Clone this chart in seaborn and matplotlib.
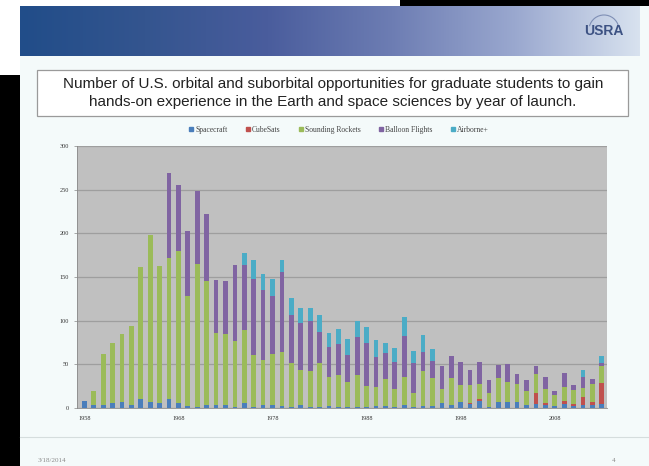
import numpy as np
import pandas as pd
import seaborn as sns
import matplotlib.pyplot as plt
from matplotlib.colors import LinearSegmentedColormap
from matplotlib.patches import Rectangle, Arc
from matplotlib.lines import Line2D

W, H = 649, 466

years = list(range(1958, 2014))
spacecraft = [8, 4, 3, 6, 7, 3, 10, 7, 6, 10, 6, 2, 1, 4, 3, 4, 1, 6, 1, 3,
              3, 2, 1, 3, 1, 1, 2, 1, 1, 1, 1, 2, 2, 1, 3, 1, 2, 2, 6, 3,
              7, 5, 8, 1, 7, 7, 7, 3, 5, 3, 2, 5, 2, 3, 3, 5]
cubesats = [0] * 39 + [1, 0, 1, 2, 0, 0, 0, 0, 0, 12, 3, 0, 3, 3, 10, 4, 24]
sounding = [0, 15, 59, 69, 78, 91, 151, 191, 157, 162, 174, 126, 164, 141, 83, 81, 76, 83, 60, 52,
            59, 62, 50, 41, 41, 51, 34, 37, 29, 37, 24, 22, 31, 21, 33, 16, 40, 32, 16, 30,
            19, 20, 18, 16, 27, 23, 20, 16, 22, 16, 13, 16, 16, 10, 20, 19]
balloon = [0, 0, 0, 0, 0, 0, 0, 0, 0, 97, 75, 75, 83, 77, 60, 60, 87, 75, 87, 80,
           66, 92, 56, 53, 58, 35, 34, 35, 31, 43, 50, 34, 30, 31, 46, 35, 22, 20, 26, 25,
           27, 17, 25, 15, 15, 20, 12, 13, 9, 13, 4, 16, 5, 13, 6, 4]
airborne = [0] * 17 + [13, 21, 18, 20, 13, 19, 18, 15, 20, 16, 17, 18, 19, 18, 20, 11, 16, 22, 13,
                       20, 14] + [0] * 15 + [8, 0, 7]
series = ["Spacecraft", "CubeSats", "Sounding Rockets", "Balloon Flights", "Airborne+"]
colors = ["#4a7ebb", "#c0504d", "#9bbb59", "#8064a2", "#4bacc6"]

df = pd.DataFrame({"year": [str(y) for y in years], "Spacecraft": spacecraft,
                   "CubeSats": cubesats, "Sounding Rockets": sounding,
                   "Balloon Flights": balloon, "Airborne+": airborne})
cum = df[series].cumsum(axis=1)
cum["year"] = df["year"]


def px_axes(x, y, w, h, **kw):
    return fig.add_axes([x / W, 1 - (y + h) / H, w / W, h / H], **kw)


def px_rect(x, y, w, h, **kw):
    fig.patches.append(Rectangle((x / W, 1 - (y + h) / H), w / W, h / H,
                                 transform=fig.transFigure, **kw))


fig = plt.figure(figsize=(W / 100, H / 100), dpi=100, facecolor="black")

# slide background and surrounding bits
px_rect(0, 0, 400, 6, facecolor="white", edgecolor="none", zorder=-2)
px_rect(0, 0, 20, 75, facecolor="white", edgecolor="none", zorder=-2)
px_rect(20, 6, 629, 460, facecolor="#f4fafa", edgecolor="none", zorder=-2)

# header band
hdr = px_axes(20, 6, 620, 50)
cmap = LinearSegmentedColormap.from_list(
    "hdr", ["#214d89", "#34558f", "#4a5d9d", "#6d7db3", "#9aa8cf", "#d8e2ef"])
hdr.imshow(np.linspace(0, 1, 256)[None, :], aspect="auto", cmap=cmap)
hdr.axis("off")
fig.text(604 / W, 1 - 31 / H, "USRA", color="#3d5283", fontsize=10, fontweight="bold",
         ha="center", va="center", family="Liberation Sans", zorder=5)
fig.patches.append(Arc((604 / W, 1 - 30 / H), 30 / W, 30 / H, theta1=20, theta2=160,
                       transform=fig.transFigure, color="#7f8fb5", lw=0.8, zorder=5))

# title box
px_rect(37, 70, 591, 46, facecolor="white", edgecolor="#9a9a9a", lw=0.9, zorder=1)
fig.text(333 / W, 1 - 84 / H,
         "Number of U.S. orbital and suborbital opportunities for graduate students to gain",
         ha="center", va="center", fontsize=11, family="Liberation Sans", color="#222222")
fig.text(333 / W, 1 - 102 / H,
         "hands-on experience in the Earth and space sciences by year of launch.",
         ha="center", va="center", fontsize=11, family="Liberation Sans", color="#222222")

# chart
ax = px_axes(77, 146, 530, 262)
ax.set_facecolor("#c0c0c0")
for s in reversed(series):
    sns.barplot(data=cum, x="year", y=s, color=colors[series.index(s)], width=0.5,
                saturation=1, errorbar=None, ax=ax, zorder=3)
ax.set_ylim(0, 300)
ax.set_xlim(-0.78, 55.55)
ax.set_yticks(range(0, 301, 50))
ax.grid(axis="y", color="#9e9e9e", lw=0.9, zorder=0)
ax.set_axisbelow(True)
ax.set_xticks(range(0, 56, 10))
ax.set_xticklabels([str(years[i]) for i in range(0, 56, 10)])
ax.tick_params(axis="y", labelsize=4.5, length=2, width=0.5, color="#888888", labelcolor="#333333", pad=4)
ax.tick_params(axis="x", labelsize=4.5, length=0, labelcolor="#333333", pad=6)
for lab in ax.get_xticklabels() + ax.get_yticklabels():
    lab.set_family("Liberation Serif")
ax.set_xlabel("")
ax.set_ylabel("")
for side in ["top", "right"]:
    ax.spines[side].set_visible(False)
ax.spines["left"].set_color("#8a8a8a")
ax.spines["bottom"].set_color("#8a8a8a")
ax.spines["left"].set_linewidth(0.6)
ax.spines["bottom"].set_linewidth(0.6)

handles = [Line2D([], [], marker="s", ls="", markersize=2.5, color=c) for c in colors]
fig.legend(handles, series, loc="center", bbox_to_anchor=(339 / W, 1 - 130 / H), ncol=5,
           frameon=False, prop={"family": "Liberation Serif", "size": 5.5},
           handlelength=0.6, handletextpad=0.2, columnspacing=2.4, labelcolor="#444444")

# footer
fig.add_artist(Line2D([20 / W, 1], [1 - 437 / H, 1 - 437 / H], transform=fig.transFigure,
                      color="#d5dddd", lw=0.8))
fig.text(38 / W, 1 - 460 / H, "3/18/2014", fontsize=5, family="Liberation Serif", color="#8a8a8a",
         va="center")
fig.text(612 / W, 1 - 460 / H, "4", fontsize=5, family="Liberation Serif", color="#8a8a8a",
         va="center")

fig.savefig("out.png", dpi=100, facecolor=fig.get_facecolor())
